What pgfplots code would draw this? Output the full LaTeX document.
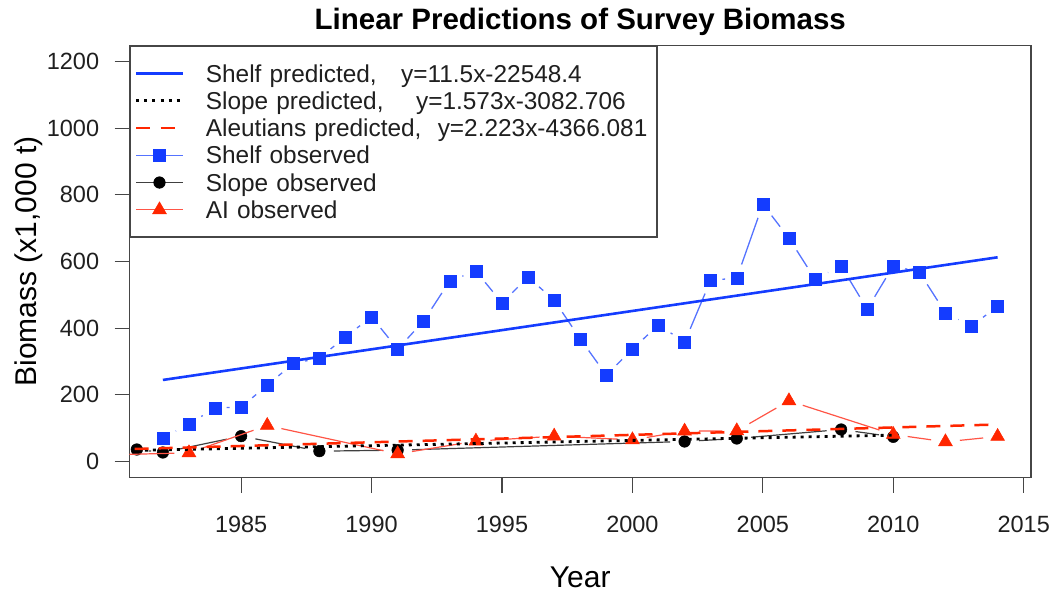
\documentclass[border=0pt]{standalone}
\usepackage{fontspec}
\setmainfont{Liberation Sans}
\usepackage{pgfplots}
\usepackage{pgfplotstable}
\pgfplotsset{compat=1.18}

\definecolor{shelfblue}{RGB}{20,60,255}
\definecolor{shelfthin}{RGB}{85,115,255}
\definecolor{aired}{RGB}{255,38,0}
\definecolor{aithin}{RGB}{255,85,70}
\definecolor{framegray}{RGB}{70,70,70}

% Eastern Bering Sea shelf survey biomass (x1,000 t)
\pgfplotstableread{
year bio
1982 71
1983 112
1984 161
1985 163
1986 229
1987 294
1988 310
1989 374
1990 434
1991 337
1992 422
1993 542
1994 571
1995 476
1996 553
1997 484
1998 368
1999 259
2000 337
2001 410
2002 358
2003 544
2004 550
2005 772
2006 670
2007 547
2008 587
2009 457
2010 587
2011 568
2012 446
2013 406
2014 466
}\shelftab

% slope survey biomass
\pgfplotstableread{
year bio
1981 36
1982 27
1985 76
1988 31
1991 34
2002 60
2004 69
2008 96
2010 74
}\slopetab

% Aleutian Islands survey biomass
\pgfplotstableread{
year bio
1980 20
1983 26
1986 108
1991 23
1994 61
1997 76
2000 65
2002 91
2004 92
2006 182
2010 81
2012 59
2014 75
}\aitab

\tikzset{
  shelf fit/.style={shelfblue, line width=2.6pt, solid},
  slope fit/.style={black, line width=2.8pt, dash pattern=on 3pt off 5pt},
  ai fit/.style={aired, line width=2.5pt, dash pattern=on 14pt off 10pt},
  shelf obs/.style={shelfthin, line width=1.3pt, solid},
  slope obs/.style={black!75, line width=1.2pt, solid},
  ai obs/.style={aithin, line width=1.2pt, solid},
  shelf mark/.style={mark=square*, mark size=6pt,
    mark options={solid, draw=shelfblue, fill=shelfblue, line width=0.5pt}},
  slope mark/.style={mark=*, mark size=5.8pt,
    mark options={solid, draw=black, fill=black, line width=0.5pt}},
  ai mark/.style={mark=triangle*, mark size=8pt,
    mark options={solid, draw=aired, fill=aired, line width=0.5pt}},
}

% axis scale: 26.0851pt per year, 3 biomass units per pt
\def\ptperyear{26.0851}
\def\unitsperpt{3}
\def\symgap{14.5}

% lines between consecutive observations, stopping short of each symbol
% #1 table, #2 line style, #3 index of the last segment start
\newcommand{\gappedlines}[3]{%
  \pgfplotsinvokeforeach{0,...,#3}{%
    \pgfplotstablegetelem{##1}{year}\of#1\edef\xa{\pgfplotsretval}%
    \pgfplotstablegetelem{##1}{bio}\of#1\edef\ya{\pgfplotsretval}%
    \pgfmathtruncatemacro\nexti{##1+1}%
    \pgfplotstablegetelem{\nexti}{year}\of#1\edef\xb{\pgfplotsretval}%
    \pgfplotstablegetelem{\nexti}{bio}\of#1\edef\yb{\pgfplotsretval}%
    \pgfmathsetmacro\ddx{(\xb-\xa)*\ptperyear}%
    \pgfmathsetmacro\ddy{(\yb-\ya)/\unitsperpt}%
    \pgfmathsetmacro\ff{\symgap/veclen(\ddx,\ddy)}%
    \pgfmathsetmacro\xs{\xa+\ff*(\xb-\xa)}%
    \pgfmathsetmacro\ys{\ya+\ff*(\yb-\ya)}%
    \pgfmathsetmacro\xe{\xb-\ff*(\xb-\xa)}%
    \pgfmathsetmacro\ye{\yb-\ff*(\yb-\ya)}%
    \edef\dosegment{\noexpand\addplot[#2, forget plot]
      coordinates {(\xs,\ys) (\xe,\ye)};}%
    \dosegment
  }%
}

\begin{document}
\begin{tikzpicture}
\useasboundingbox (-129.5pt,-121.5pt) rectangle (925.5pt,477.5pt);
\begin{axis}[
  name=ax,
  scale only axis, width=901.5pt, height=432pt,
  xmin=1980.72, xmax=2015.28, ymin=-48, ymax=1248,
  xtick={1985,1990,...,2015}, ytick={0,200,...,1200},
  tick pos=left, tick align=outside, major tick length=15pt,
  minor tick num=0,
  axis line style={framegray, line width=1.2pt},
  every tick/.style={framegray, line width=1.2pt},
  tick label style={font=\fontsize{23.5}{28}\selectfont, text=black!88},
  /pgf/number format/1000 sep={},
  /pgf/number format/assume math mode=true,
  xticklabel style={anchor=base, yshift=-39.8pt},
  yticklabel style={anchor=east, inner sep=0pt, xshift=-15.2pt},
  clip marker paths=true,
  legend cell align=left,
  legend style={at={(0,1)}, anchor=north west, draw=framegray,
    line width=1.2pt, fill=white, inner xsep=5pt, inner ysep=13.6pt,
    row sep=0pt, column sep=22pt,
    font=\fontsize{24.4}{29}\selectfont, text=black!88,
    nodes={inner sep=0pt, text height=22.35pt, text depth=4.95pt,
      text width=446pt, align=left}},
  legend image code/.code={%
    \draw[mark repeat=2, mark phase=2, #1]
      plot coordinates {(0pt,0pt) (23pt,0pt) (46pt,0pt)};},
]
% observed series
\gappedlines{\shelftab}{shelf obs}{31}
\addplot[shelf mark, only marks, forget plot] table[x=year, y=bio] {\shelftab};
\gappedlines{\slopetab}{slope obs}{7}
\addplot[slope mark, only marks, forget plot] table[x=year, y=bio] {\slopetab};
\gappedlines{\aitab}{ai obs}{11}
\addplot[ai mark, only marks, forget plot] table[x=year, y=bio] {\aitab};

% fitted linear trends (end points from the fitted equations)
\addplot[shelf fit, forget plot] coordinates {(1982,244.6) (2014,612.6)};
\addplot[slope fit, forget plot] coordinates {(1981,33.407) (2010,79.024)};
\addplot[ai fit, forget plot] coordinates {(1980,35.459) (2014,111.041)};

\addlegendimage{shelf fit}
\addlegendentry{Shelf predicted,~~~y=11.5x-22548.4}
\addlegendimage{slope fit}
\addlegendentry{Slope predicted,~~~~y=1.573x-3082.706}
\addlegendimage{ai fit}
\addlegendentry{Aleutians predicted,~~y=2.223x-4366.081}
\addlegendimage{shelf obs, shelf mark}
\addlegendentry{Shelf observed}
\addlegendimage{slope obs, slope mark}
\addlegendentry{Slope observed}
\addlegendimage{ai obs, ai mark}
\addlegendentry{AI observed}
\end{axis}
\node[anchor=base, font=\bfseries\fontsize{29.5}{35}\selectfont]
  at ([yshift=15.5pt]ax.north) {Linear Predictions of Survey Biomass};
\node[anchor=base, font=\fontsize{30}{36}\selectfont]
  at ([yshift=-110pt]ax.south) {Year};
\node[rotate=90, anchor=base, font=\fontsize{30}{36}\selectfont]
  at ([xshift=-92.8pt]ax.west) {Biomass (x1,000 t)};
\end{tikzpicture}
\end{document}
